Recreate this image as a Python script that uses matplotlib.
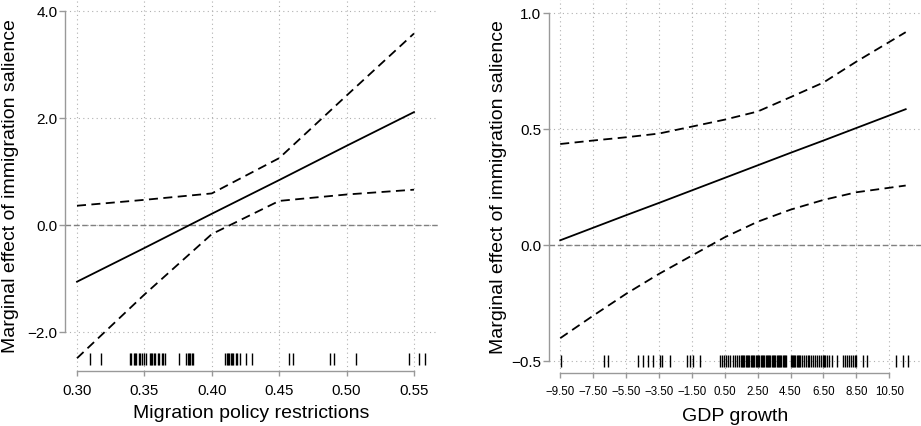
import matplotlib
matplotlib.use("Agg")
import matplotlib.pyplot as plt
from matplotlib.ticker import FixedLocator, FuncFormatter

plt.rcParams['font.family'] = ['Liberation Sans', 'DejaVu Sans']

# --- panel 1: migration policy restrictions ---
mpr_x = [0.30, 0.35, 0.40, 0.45, 0.50, 0.55]
mpr_me = [-1.06, -0.43, 0.21, 0.84, 1.48, 2.11]
mpr_hi = [0.36, 0.47, 0.59, 1.25, 2.42, 3.58]
mpr_lo = [-2.49, -1.30, -0.17, 0.45, 0.57, 0.66]
mpr_rug = [0.310, 0.318, 0.339, 0.340, 0.342, 0.343, 0.344, 0.346, 0.347, 0.348,
           0.350, 0.351, 0.354, 0.355, 0.356, 0.357, 0.358, 0.360, 0.361, 0.363,
           0.364, 0.365, 0.376, 0.381, 0.382, 0.383, 0.384, 0.385, 0.386, 0.410,
           0.411, 0.412, 0.413, 0.414, 0.415, 0.416, 0.418, 0.419, 0.421, 0.425,
           0.430, 0.457, 0.460, 0.488, 0.491, 0.507, 0.546, 0.554, 0.558]
mpr_ticks = [0.30, 0.35, 0.40, 0.45, 0.50, 0.55]
mpr_yticks = [-2.0, 0.0, 2.0, 4.0]

# --- panel 2: GDP growth ---
gdp_x = [-9.5, -7.5, -5.5, -3.5, -1.5, 0.5, 2.5, 4.5, 6.5, 8.5, 11.5]
gdp_me = [0.020, 0.074, 0.128, 0.181, 0.235, 0.289, 0.343, 0.397, 0.450, 0.504, 0.585]
gdp_hi = [0.435, 0.450, 0.464, 0.480, 0.510, 0.540, 0.575, 0.637, 0.700, 0.790, 0.917]
gdp_lo = [-0.402, -0.305, -0.211, -0.125, -0.046, 0.033, 0.100, 0.152, 0.194, 0.227, 0.256]
gdp_rug = [-9.46, -6.83, -6.58, -4.80, -4.46, -4.15, -3.85, -3.44, -3.34, -2.83,
           -1.82, -1.62, -1.42, -1.01, 0.20, 0.31, 0.45, 0.58, 0.70, 0.85, 0.98,
           1.10, 1.22, 1.35, 1.48, 1.55, 1.62, 1.70, 1.78, 1.85, 1.92, 2.00, 2.08,
           2.15, 2.22, 2.30, 2.38, 2.45, 2.52, 2.60, 2.68, 2.75, 2.82, 2.90, 2.98,
           3.05, 3.12, 3.20, 3.28, 3.35, 3.42, 3.50, 3.58, 3.65, 3.72, 3.80, 3.88,
           3.95, 4.02, 4.10, 4.18, 4.25, 4.50, 4.58, 4.65, 4.72, 4.80, 4.88, 4.95,
           5.02, 5.10, 5.18, 5.30, 5.42, 5.55, 5.62, 5.75, 5.88, 6.00, 6.10, 6.20,
           6.35, 6.45, 6.55, 6.62, 6.72, 6.85, 7.00, 7.30, 7.70, 7.82, 7.95, 8.05,
           8.15, 8.28, 8.40, 8.50, 8.90, 9.16, 10.94, 11.35, 11.65]
gdp_ticks = [-9.5, -7.5, -5.5, -3.5, -1.5, 0.5, 2.5, 4.5, 6.5, 8.5, 10.5]
gdp_yticks = [-0.5, 0.0, 0.5, 1.0]

ylab = 'Marginal effect of immigration salience'
GRAY = '#999999'


def fmt(dec):
    def f(v, pos):
        s = f'{v:.{dec}f}'
        return s.replace('-', '\u2212')
    return FuncFormatter(f)


def panel(ax, x, me, hi, lo, rug, rug_y, xt, yt, xlim, ylim, xlabel, xfs, xpad):
    ax.set_xlim(*xlim)
    ax.set_ylim(*ylim)
    # grid
    for v in xt:
        ax.axvline(v, color='#b0b0b0', lw=0.8, ls=(0, (1, 3)), zorder=0)
    for v in yt:
        ax.axhline(v, color='#b0b0b0', lw=0.8, ls=(0, (1, 3)), zorder=0)
    ax.axhline(0, color='#808080', lw=1.0, ls=(0, (4, 2)), zorder=1)
    ax.plot(x, me, color='black', lw=1.3, zorder=3)
    ax.plot(x, hi, color='black', lw=1.3, ls=(0, (5, 3)), zorder=3)
    ax.plot(x, lo, color='black', lw=1.3, ls=(0, (5, 3)), zorder=3)
    ax.plot(rug, [rug_y] * len(rug), ls='none', marker='|', ms=8,
            mew=1.0, color='black', zorder=2)
    for s in ['top', 'right']:
        ax.spines[s].set_visible(False)
    ax.spines['left'].set_bounds(yt[0], yt[-1])
    ax.spines['bottom'].set_bounds(xt[0], xt[-1])
    for s in ['left', 'bottom']:
        ax.spines[s].set_color(GRAY)
        ax.spines[s].set_linewidth(1.0)
    ax.xaxis.set_major_locator(FixedLocator(xt))
    ax.yaxis.set_major_locator(FixedLocator(yt))
    ax.xaxis.set_major_formatter(fmt(2))
    ax.yaxis.set_major_formatter(fmt(1))
    ax.tick_params(axis='x', color=GRAY, length=3.6, width=1.0,
                   labelsize=xfs, pad=xpad)
    ax.tick_params(axis='y', color=GRAY, length=4.5, width=1.0,
                   labelsize=11, pad=0.8)
    ax.set_xlabel(xlabel, fontsize=14)
    ax.set_ylabel(ylab, fontsize=14)
    ax.set_facecolor('none')


fig = plt.figure(figsize=(9.21, 4.27), dpi=100)
ax1 = fig.add_axes([65 / 921, 1 - 372 / 427, (438 - 65) / 921, 372 / 427])
ax2 = fig.add_axes([548.7 / 921, 1 - 374 / 427, (921 - 548.7) / 921, 374 / 427])

panel(ax1, mpr_x, mpr_me, mpr_hi, mpr_lo, mpr_rug, -2.51, mpr_ticks, mpr_yticks,
      (0.2911, 0.5678), (-2.729, 4.224), 'Migration policy restrictions', 10.8, 5)
panel(ax2, gdp_x, gdp_me, gdp_hi, gdp_lo, gdp_rug, -0.502, gdp_ticks, gdp_yticks,
      (-10.2, 12.43), (-0.552, 1.060), 'GDP growth', 8.3, 4.8)

ax1.yaxis.set_label_coords(-0.123, 0.5)
ax1.xaxis.set_label_coords(0.5, -0.090)
ax2.yaxis.set_label_coords(-0.112, 0.5)
ax2.xaxis.set_label_coords(0.5, -0.092)

fig.savefig('out.png', dpi=100)
